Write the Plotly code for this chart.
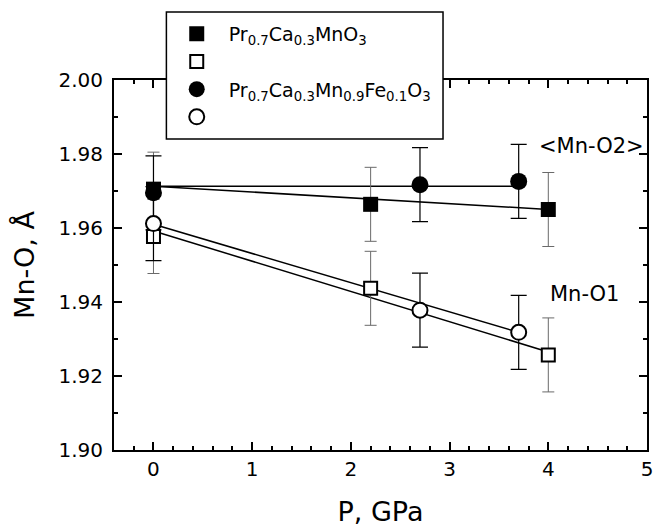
import plotly.graph_objects as go

# ---- data ----
p_pcmo = [0, 2.2, 4]
mno2_pcmo = [1.9705, 1.9664, 1.9650]
mno1_pcmo = [1.9577, 1.9437, 1.9257]
err_pcmo = [0.01, 0.01, 0.01]

p_fe = [0, 2.7, 3.7]
mno2_fe = [1.9695, 1.9717, 1.9726]
mno1_fe = [1.9612, 1.9378, 1.9318]
err_fe = [0.01, 0.01, 0.01]

# guide lines (end points)
fit_p_pcmo = [0, 4]
fit_mno2_pcmo = [1.9713, 1.9650]
fit_mno1_pcmo = [1.9592, 1.9265]
fit_p_fe = [0, 3.7]
fit_mno2_fe = [1.9713, 1.9713]
fit_mno1_fe = [1.9610, 1.9318]

name_pcmo = "Pr<sub>0.7</sub>Ca<sub>0.3</sub>MnO<sub>3</sub>"
name_fe = "Pr<sub>0.7</sub>Ca<sub>0.3</sub>Mn<sub>0.9</sub>Fe<sub>0.1</sub>O<sub>3</sub>"

FONT = "DejaVu Sans"

fig = go.Figure()

for px_, py_ in [(fit_p_pcmo, fit_mno2_pcmo), (fit_p_pcmo, fit_mno1_pcmo),
                 (fit_p_fe, fit_mno2_fe), (fit_p_fe, fit_mno1_fe)]:
    fig.add_trace(go.Scatter(x=px_, y=py_, mode="lines", showlegend=False,
                             line=dict(color="black", width=1.5), hoverinfo="skip"))

fig.add_trace(go.Scatter(
    x=p_pcmo, y=mno2_pcmo, mode="markers", name=name_pcmo,
    marker=dict(symbol="square", size=15, color="black", line=dict(width=0)),
    error_y=dict(type="data", array=err_pcmo, color="#6a6a6a", thickness=1, width=6)))
fig.add_trace(go.Scatter(
    x=p_pcmo, y=mno1_pcmo, mode="markers", name="",
    marker=dict(symbol="square", size=13, color="white", line=dict(width=2, color="black")),
    error_y=dict(type="data", array=err_pcmo, color="#6a6a6a", thickness=1, width=6)))
fig.add_trace(go.Scatter(
    x=p_fe, y=mno2_fe, mode="markers", name=name_fe,
    marker=dict(symbol="circle", size=17, color="black", line=dict(width=0)),
    error_y=dict(type="data", array=err_fe, color="black", thickness=1.2, width=8)))
fig.add_trace(go.Scatter(
    x=p_fe, y=mno1_fe, mode="markers", name="",
    marker=dict(symbol="circle", size=15, color="white", line=dict(width=2, color="black")),
    error_y=dict(type="data", array=err_fe, color="black", thickness=1.2, width=8)))

axis_common = dict(
    showline=True, linewidth=2, linecolor="black", mirror="ticks",
    ticks="inside", ticklen=8, tickwidth=2, tickcolor="black",
    showgrid=False, zeroline=False,
    tickfont=dict(family=FONT, size=20, color="black"),
)

fig.update_xaxes(
    range=[-0.4, 5], tick0=0, dtick=1,
    minor=dict(tick0=0, dtick=0.2, ticks="inside", ticklen=4, tickwidth=1.5, tickcolor="black"),
    title=dict(text="P, GPa", font=dict(family=FONT, size=27, color="black"), standoff=22),
    **axis_common)
fig.update_yaxes(
    range=[1.90, 2.00], tick0=1.90, dtick=0.02, tickformat=".2f",
    minor=dict(tick0=1.90, dtick=0.01, ticks="inside", ticklen=4, tickwidth=1.5, tickcolor="black"),
    title=dict(text="Mn-O, Å", font=dict(family=FONT, size=27, color="black"), standoff=16),
    ticklabelstandoff=5,
    **axis_common)

fig.add_shape(type="rect", xref="paper", yref="paper",
              x0=0.0983, x1=0.6173, y0=0.8406, y1=1.1836,
              line=dict(color="black", width=1.5), fillcolor="white", layer="above")

fig.add_annotation(x=4.437, y=1.9822, text="&lt;Mn-O2&gt;", showarrow=False,
                   font=dict(family=FONT, size=21, color="black"))
fig.add_annotation(x=4.362, y=1.9421, text="Mn-O1", showarrow=False,
                   font=dict(family=FONT, size=21, color="black"))

fig.update_layout(
    width=659, height=528, autosize=False,
    margin=dict(l=114, r=6, t=80, b=76),
    plot_bgcolor="white", paper_bgcolor="white",
    font=dict(family=FONT, color="black"),
    legend=dict(x=0.0952, y=1.176, xanchor="left", yanchor="top",
                bgcolor="rgba(0,0,0,0)", borderwidth=0,
                font=dict(family=FONT, size=19, color="black"),
                tracegroupgap=0, itemwidth=54, traceorder="normal"),
)

fig.write_html("out.html")
